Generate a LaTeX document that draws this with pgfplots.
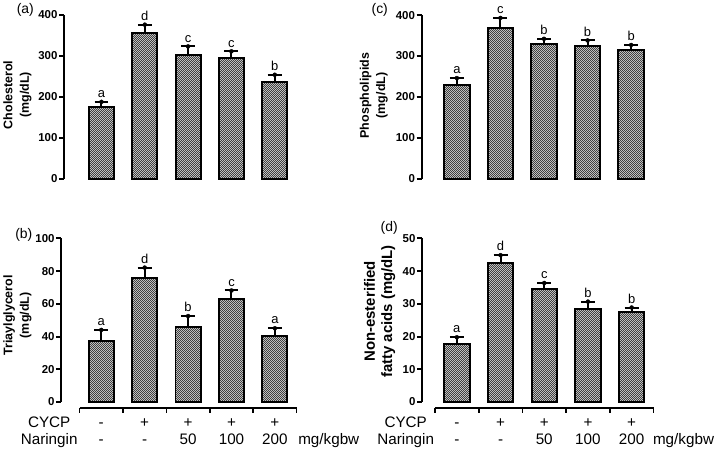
\documentclass[border=0pt]{standalone}
\usepackage{pgfplots}
\pgfplotsset{compat=1.18}
\usepackage{fontspec}
\setmainfont{Liberation Sans}
\usetikzlibrary{patterns}

\pgfdeclarepatternformonly{checker}{\pgfqpoint{0pt}{0pt}}{\pgfqpoint{2pt}{2pt}}{\pgfqpoint{2pt}{2pt}}{%
 \pgfpathrectangle{\pgfqpoint{0pt}{0pt}}{\pgfqpoint{1pt}{1pt}}%
 \pgfpathrectangle{\pgfqpoint{1pt}{1pt}}{\pgfqpoint{1pt}{1pt}}%
 \pgfusepath{fill}}

\newcommand\rowfont{\fontsize{15.3}{15}\selectfont}
\tikzset{xbase/.style={line width=1.7pt}}

\pgfplotsset{
 panel/.style={
  scale only axis, clip=false, anchor=south west,
  axis x line=none, axis y line=left,
  y axis line style={line width=2pt, -},
  xtick=\empty,
  xmax=4.5, ymin=0,
  tick align=outside, major tick length=5pt,
  tick style={line width=2pt, black},
  yticklabel style={font=\bfseries\fontsize{11.5}{12}\selectfont, inner xsep=1.5pt},
  /pgf/number format/assume math mode=true,
  ylabel style={font=\bfseries\fontsize{12.5}{16.5}\selectfont, align=center, anchor=center},
 },
 mybar/.style={ybar, bar width=0.58, draw=black, line width=2pt, fill=gray!35,
  postaction={pattern=checker, pattern color=black!75},
  error bars/.cd, y dir=plus, y explicit,
  error bar style={line width=2pt, black},
  error mark options={rotate=90, line width=2pt, mark size=7pt, black}},
 letters/.style={only marks, mark=*, mark options={draw=none, fill=none},
  nodes near coords, point meta=explicit symbolic,
  nodes near coords style={anchor=south, font=\fontsize{13}{13}\selectfont, inner sep=0pt, yshift=4pt, black}},
}

\begin{document}
\begin{tikzpicture}
\path (0,0) rectangle (714pt,450pt);

% (a) Cholesterol
\begin{axis}[panel, at={(63pt,273pt)}, width=233.25pt, height=165pt,
  xmin=-0.862, ymax=400, ytick={0,100,200,300,400},
  ylabel={Cholesterol\\(mg/dL)},
  ylabel style={at={(axis description cs:-0.2015,0.512)}}]
\addplot[mybar] table[x=x, y=y, y error=e] {
x y e
0 175 13
1 356 20
2 303 20
3 294 17
4 237 17
};
\addplot[letters] table[x=x, y=t, meta=l] {
x t l
0 188 a
1 376 d
2 323 c
3 311 c
4 254 b
};
\end{axis}

% (c) Phospholipids
\begin{axis}[panel, at={(422pt,273.3pt)}, width=232.4pt, height=164.4pt,
  xmin=-0.811, ymax=400, ytick={0,100,200,300,400},
  ylabel={Phospholipids\\(mg/dL)},
  ylabel style={at={(axis description cs:-0.2065,0.509)}}]
\addplot[mybar] table[x=x, y=y, y error=e] {
x y e
0 230 16
1 369 24
2 329 13
3 324 14
4 314 13
};
\addplot[letters] table[x=x, y=t, meta=l] {
x t l
0 246 a
1 393 c
2 342 b
3 338 b
4 327 b
};
\end{axis}

% (b) Triaylglycerol
\begin{axis}[panel, at={(60pt,49pt)}, width=236.5pt, height=164.3pt,
  xmin=-0.924, ymax=100, ytick={0,20,40,60,80,100},
  ylabel={Triaylglycerol\\(mg/dL)},
  ylabel style={at={(axis description cs:-0.186,0.53)}}]
\addplot[mybar] table[x=x, y=y, y error=e] {
x y e
0 37.2 6.9
1 76.1 6.1
2 45.7 6.9
3 63.2 5.0
4 40.3 4.8
};
\addplot[letters] table[x=x, y=t, meta=l] {
x t l
0 44.1 a
1 82.2 d
2 52.6 b
3 68.2 c
4 45.1 a
};
\draw[xbase] ([yshift=-6pt]axis cs:-0.5,0) -- ([yshift=-6pt]axis cs:4.5,0);
\pgfplotsinvokeforeach{-0.5,0.5,1.5,2.5,3.5,4.5}{\draw[xbase] ([yshift=-6pt]axis cs:#1,0) -- ([yshift=-11pt]axis cs:#1,0);}
\node[anchor=base, font=\rowfont] at ([yshift=-25.5pt]axis cs:-1.2,0) {CYCP};
\node[anchor=base, font=\rowfont] at ([yshift=-42.5pt]axis cs:-1.2,0) {Naringin};
\node[anchor=base, font=\rowfont] at ([yshift=-25.5pt]axis cs:0,0) {-};
\node[anchor=base, font=\rowfont] at ([yshift=-25.5pt]axis cs:1,0) {+};
\node[anchor=base, font=\rowfont] at ([yshift=-25.5pt]axis cs:2,0) {+};
\node[anchor=base, font=\rowfont] at ([yshift=-25.5pt]axis cs:3,0) {+};
\node[anchor=base, font=\rowfont] at ([yshift=-25.5pt]axis cs:4,0) {+};
\node[anchor=base, font=\rowfont] at ([yshift=-42.5pt]axis cs:0,0) {-};
\node[anchor=base, font=\rowfont] at ([yshift=-42.5pt]axis cs:1,0) {-};
\node[anchor=base, font=\rowfont] at ([yshift=-42.5pt]axis cs:2,0) {50};
\node[anchor=base, font=\rowfont] at ([yshift=-42.5pt]axis cs:3,0) {100};
\node[anchor=base, font=\rowfont] (bb) at ([yshift=-42.5pt]axis cs:4,0) {200};
\node[anchor=base west, font=\rowfont, inner xsep=0pt] at ([xshift=7pt]bb.base east) {mg/kgbw};
\end{axis}

% (d) Non-esterified fatty acids
\begin{axis}[panel, at={(422.5pt,49pt)}, width=232.5pt, height=164.3pt,
  xmin=-0.796, ymax=50, ytick={0,10,20,30,40,50},
  ylabel={Non-esterified\\fatty acids (mg/dL)},
  ylabel style={font=\bfseries\fontsize{15}{17.5}\selectfont, at={(axis description cs:-0.183,0.554)}}]
\addplot[mybar] table[x=x, y=y, y error=e] {
x y e
0 17.8 2.0
1 42.6 2.3
2 34.7 1.7
3 28.4 2.3
4 27.4 1.5
};
\addplot[letters] table[x=x, y=t, meta=l] {
x t l
0 19.8 a
1 44.9 d
2 36.4 c
3 30.7 b
4 28.9 b
};
\draw[xbase] ([yshift=-6pt]axis cs:-0.5,0) -- ([yshift=-6pt]axis cs:4.5,0);
\pgfplotsinvokeforeach{-0.5,0.5,1.5,2.5,3.5,4.5}{\draw[xbase] ([yshift=-6pt]axis cs:#1,0) -- ([yshift=-11pt]axis cs:#1,0);}
\node[anchor=base, font=\rowfont] at ([yshift=-25.5pt]axis cs:-1.17,0) {CYCP};
\node[anchor=base, font=\rowfont] at ([yshift=-42.5pt]axis cs:-1.17,0) {Naringin};
\node[anchor=base, font=\rowfont] at ([yshift=-25.5pt]axis cs:0,0) {-};
\node[anchor=base, font=\rowfont] at ([yshift=-25.5pt]axis cs:1,0) {+};
\node[anchor=base, font=\rowfont] at ([yshift=-25.5pt]axis cs:2,0) {+};
\node[anchor=base, font=\rowfont] at ([yshift=-25.5pt]axis cs:3,0) {+};
\node[anchor=base, font=\rowfont] at ([yshift=-25.5pt]axis cs:4,0) {+};
\node[anchor=base, font=\rowfont] at ([yshift=-42.5pt]axis cs:0,0) {-};
\node[anchor=base, font=\rowfont] at ([yshift=-42.5pt]axis cs:1,0) {-};
\node[anchor=base, font=\rowfont] at ([yshift=-42.5pt]axis cs:2,0) {50};
\node[anchor=base, font=\rowfont] at ([yshift=-42.5pt]axis cs:3,0) {100};
\node[anchor=base, font=\rowfont] (dd) at ([yshift=-42.5pt]axis cs:4,0) {200};
\node[anchor=base west, font=\rowfont, inner xsep=0pt] at ([xshift=5pt]dd.base east) {mg/kgbw};
\end{axis}

\node[font=\fontsize{14}{14}\selectfont] at (24pt,443pt) {(a)};
\node[font=\fontsize{14}{14}\selectfont] at (380pt,443pt) {(c)};
\node[font=\fontsize{14}{14}\selectfont] at (22.5pt,217pt) {(b)};
\node[font=\fontsize{14}{14}\selectfont] at (389.5pt,224pt) {(d)};
\end{tikzpicture}
\end{document}
